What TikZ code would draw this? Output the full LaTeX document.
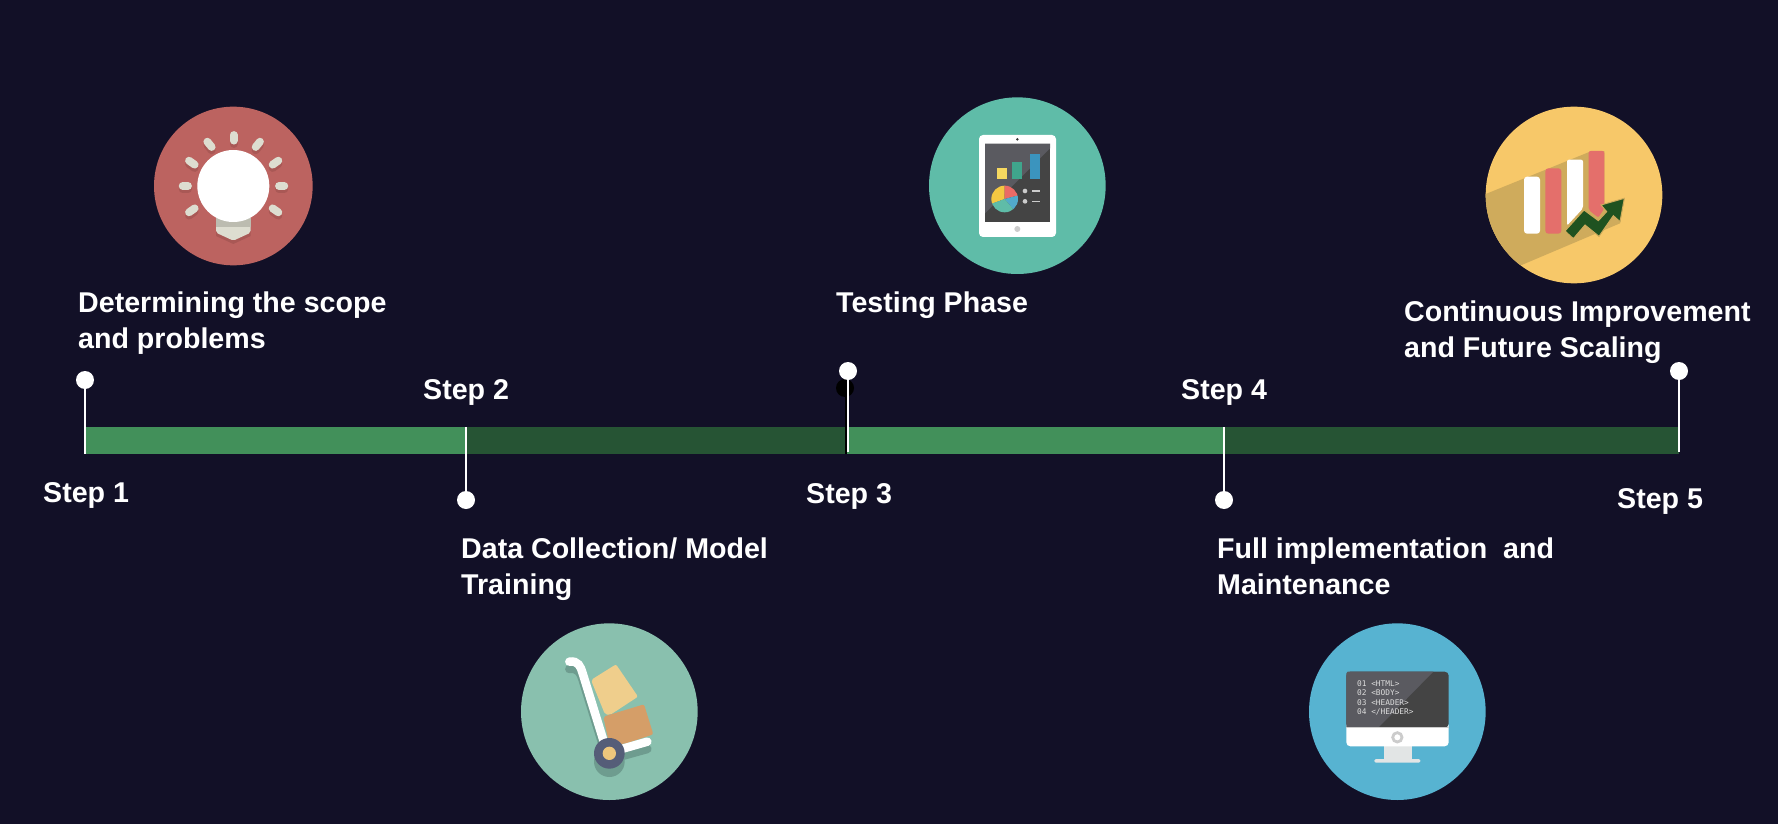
\documentclass[tikz,border=0pt]{standalone}
\usepackage{fontspec}
\setmainfont{Liberation Sans}
\setmonofont{DejaVu Sans Mono}
\definecolor{bg}{HTML}{121027}
\definecolor{barlight}{HTML}{42905A}
\definecolor{bardark}{HTML}{265434}
\definecolor{bulbbg}{HTML}{BC6360}
\definecolor{bulbshade}{HTML}{A95855}
\definecolor{bulbray}{HTML}{DDDDD0}
\definecolor{bulbneck}{HTML}{BCBCB0}
\definecolor{tabbg}{HTML}{5FBCA8}
\definecolor{scrdark}{HTML}{444444}
\definecolor{scrlight}{HTML}{5A5A60}
\definecolor{cyellow}{HTML}{F6D860}
\definecolor{cgreen}{HTML}{3FA58C}
\definecolor{cblue}{HTML}{3B94BE}
\definecolor{pieyellow}{HTML}{F4C742}
\definecolor{piered}{HTML}{EB6B66}
\definecolor{pieblue}{HTML}{52AACB}
\definecolor{lightgrey}{HTML}{CCCCCC}
\definecolor{cam}{HTML}{333333}
\definecolor{chartbg}{HTML}{F7C869}
\definecolor{chartshade}{HTML}{CFAB5C}
\definecolor{chartred}{HTML}{E46F6B}
\definecolor{arrowgreen}{HTML}{1F5220}
\definecolor{cartbg}{HTML}{89C0AE}
\definecolor{cartshade}{HTML}{6E9C8F}
\definecolor{boxyellow}{HTML}{EFCE8C}
\definecolor{boxorange}{HTML}{D59E68}
\definecolor{wheel}{HTML}{555D78}
\definecolor{hub}{HTML}{EEC67C}
\definecolor{monbg}{HTML}{57B3D1}
\definecolor{stand}{HTML}{E2E5E5}
\definecolor{codetext}{HTML}{DDDDDD}
\tikzset{
  pin/.style={circle,fill=white,minimum size=18pt,inner sep=0pt},
  stem/.style={draw=white,line width=1.6pt},
  label/.style={anchor=base west,text=white,inner sep=0pt,font=\fontsize{28.6}{35.6}\selectfont\bfseries,align=left},
  zoomed/.style={x=0.33333pt,y=-0.33333pt},
  ray/.style={line width=7.8pt,line cap=round,draw=#1},
  code/.style={anchor=west,inner sep=0pt,text=codetext,font=\ttfamily\fontsize{7.8}{9}\selectfont},
}
\begin{document}
\begin{tikzpicture}[x=1pt,y=-1pt]
\useasboundingbox (0,0) rectangle (1778,824);
\fill[bg] (0,0) rectangle (1778,824);
% --- bar
\fill[barlight] (85,427) rectangle (466,454);
\fill[bardark] (466,427) rectangle (846,454);
\fill[barlight] (846,427) rectangle (1224,454);
\fill[bardark] (1224,427) rectangle (1679,454);
\fill[black] (845,388) circle[radius=9];
\draw[black,line width=1.6pt] (846,388) -- (846,454);
% --- pins and stems
\node[pin] (p1) at (85,380) {};
\node[pin] (p2) at (466,500) {};
\node[pin] (p3) at (848,371) {};
\node[pin] (p4) at (1224,500) {};
\node[pin] (p5) at (1679,371) {};
\coordinate (b1) at (85,454);
\coordinate (b2) at (466,427);
\coordinate (b3) at (848,452);
\coordinate (b4) at (1224,427);
\coordinate (b5) at (1679,452);
\draw[stem] (p1) -- (b1);
\draw[stem] (p2) -- (b2);
\draw[stem] (p3) -- (b3);
\draw[stem] (p4) -- (b4);
\draw[stem] (p5) -- (b5);
% --- labels (a two-line node's base is its last line)
\node[label] (s1) at (43,502) {Step 1};
\node[label] (s2) at (423,399.5) {Step 2};
\node[label] (s3) at (806,503) {Step 3};
\node[label] (s4) at (1181,399.5) {Step 4};
\node[label] (s5) at (1617,508) {Step 5};
\node[label] (t1) at (78,348) {Determining the scope\\and problems};
\node[label] (t2) at (461,594) {Data Collection/ Model\\Training};
\node[label] (t3) at (836,312) {Testing Phase};
\node[label] (t4) at (1217,594) {Full implementation~ and\\Maintenance};
\node[label] (t5) at (1404,357) {Continuous Improvement\\and Future Scaling};
% --- bulb icon
\begin{scope}[shift={(130,90)},zoomed]
\fill[bulbbg] (310,288) circle[radius=238];
\foreach \a/\b/\c/\d in {158/288/174/288, 447/288/463/288, 311/135/311/152, 232/155/245/171, 390/155/377/171, 177/212/194/224, 445/212/428/224, 177/367/194/355, 445/367/428/355}{
  \draw[ray=bulbshade] (\a,\b+10) -- (\c,\d+10);
  \draw[ray=bulbray] (\a,\b) -- (\c,\d);
}
\fill[bulbshade] (258,400) -- (362,400) -- (362,438) -- (310,462) -- (258,438) -- cycle;
\fill[bulbray,rounded corners=2pt] (258,385) -- (362,385) -- (362,428) -- (310,452) -- (258,428) -- cycle;
\fill[bulbneck] (258,385) rectangle (362,410);
\fill[white] (310,288) circle[radius=108];
\end{scope}
% --- tablet icon
\begin{scope}[shift={(910,85)},zoomed]
\fill[tabbg] (322,302) circle[radius=265];
\fill[white,rounded corners=4pt] (207,150) rectangle (438,456);
\fill[scrdark] (225,176) rectangle (420,410);
\fill[scrlight] (225,176) -- (420,176) -- (420,190) -- (225,385) -- cycle;
\fill[cyellow] (260,250) rectangle (290,283);
\fill[cgreen] (307,231) rectangle (337,283);
\fill[cblue] (361,207) rectangle (390,283);
\begin{scope}[shift={(284,342)}]
\clip (0,0) circle[radius=40];
\fill[pieyellow] (0,0) -- (160:90) -- (215:90) -- (270:90) -- cycle;
\fill[piered] (0,0) -- (-90:90) -- (-50:90) -- (-15:90) -- cycle;
\fill[pieblue] (0,0) -- (-15:90) -- (15:90) -- (50:90) -- cycle;
\fill[tabbg] (0,0) -- (50:90) -- (105:90) -- (160:90) -- cycle;
\end{scope}
\fill[lightgrey] (345,318) circle[radius=7];
\fill[lightgrey] (345,349) circle[radius=7];
\fill[lightgrey] (365,316) rectangle (390,321);
\fill[lightgrey] (365,347) rectangle (390,352);
\fill[cam] (322,163) circle[radius=4];
\fill[lightgrey] (322,432) circle[radius=9];
\end{scope}
% --- chart icon
\begin{scope}[shift={(1470,95)},zoomed]
\fill[chartbg] (312,300) circle[radius=265];
\begin{scope}
\clip (312,300) circle[radius=265];
\fill[chartshade] (30,304) -- (360,170) -- (403,168) -- (403,330) -- (463,310) -- (450,385) -- (155,510) -- (30,510) -- cycle;
\end{scope}
\fill[white,rounded corners=3pt] (162,245) rectangle (210,416);
\fill[chartred,rounded corners=3pt] (226,220) rectangle (274,416);
\fill[white,rounded corners=2pt] (291,194) -- (339,194) -- (339,340) -- (291,392) -- cycle;
\fill[chartred,rounded corners=2pt] (356,168) -- (403,168) -- (403,340) -- (385,368) -- (356,345) -- cycle;
\filldraw[fill=arrowgreen,draw=chartshade,line width=1pt] (285,408) -- (342,345) -- (385,377) -- (410,350) -- (393,330) -- (463,310) -- (450,380) -- (430,362) -- (387,424) -- (345,390) -- (310,431) -- cycle;
\end{scope}
% --- cart icon
\begin{scope}[shift={(510,615)},zoomed]
\fill[cartbg] (298,290) circle[radius=265];
\fill[cartshade] (298,440) circle[radius=46];
\draw[cartshade,line width=8.5pt,line cap=round] (178,162) .. controls (205,158) and (212,175) .. (218,195) -- (283,405);
\draw[cartshade,line width=8.5pt,line cap=round] (340,422) -- (412,402);
\fill[boxyellow,rounded corners=2pt] (243,195) -- (318,148) -- (384,245) -- (300,300) -- (285,298) -- cycle;
\fill[boxorange,rounded corners=2pt] (280,305) -- (402,268) -- (430,358) -- (340,388) -- (295,375) -- cycle;
\draw[white,line width=8.5pt,line cap=round] (178,140) .. controls (205,136) and (212,155) .. (218,175) -- (283,385);
\draw[white,line width=8.5pt,line cap=round] (335,402) -- (412,380);
\fill[wheel] (298,415) circle[radius=46];
\fill[hub] (298,415) circle[radius=20];
\end{scope}
% --- monitor icon
\begin{scope}[shift={(1295,615)},zoomed]
\fill[monbg] (307,290) circle[radius=265];
\fill[stand] (267,394) rectangle (350,432);
\fill[stand,rounded corners=1.5pt] (238,432) rectangle (376,443);
\fill[white,rounded corners=4pt] (154,320) -- (154,394) -- (461,394) -- (461,320) -- cycle;
\fill[scrdark,rounded corners=4pt] (154,338) -- (154,170) -- (461,170) -- (461,338) -- cycle;
\fill[scrlight] (154,338) -- (154,175) -- (158,170) -- (415,170) -- (250,338) -- cycle;
\fill[lightgrey] (154,336) rectangle (461,340);
\draw[lightgrey,line width=2.8pt] (307,367) circle[radius=14];
\node[code] (c1) at (186,207) {01 <HTML>};
\node[code] (c2) at (186,234) {02 <BODY>};
\node[code] (c3) at (186,262) {03 <HEADER>};
\node[code] (c4) at (186,290) {04 </HEADER>};
\end{scope}
\end{tikzpicture}
\end{document}
